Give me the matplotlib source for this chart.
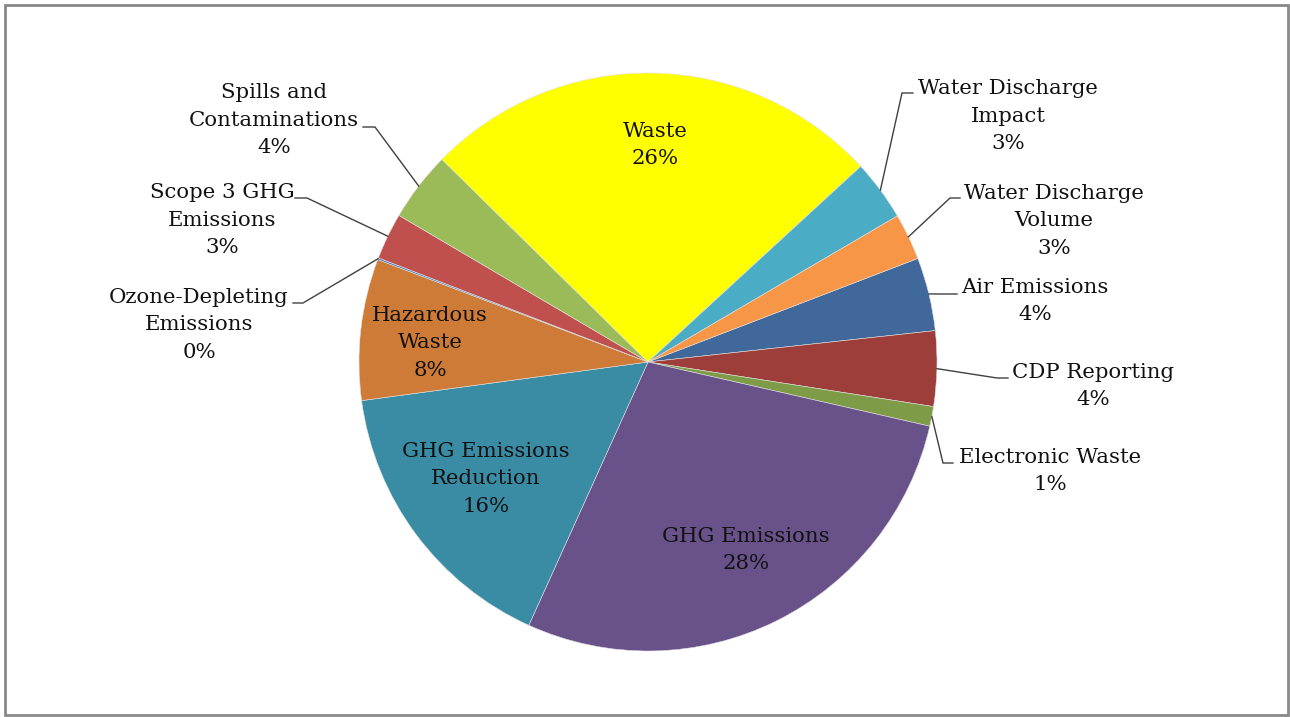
import numpy as np
import matplotlib
matplotlib.use('Agg')
import matplotlib.pyplot as plt
from matplotlib.patches import Rectangle

# data (alphabetical, as in the source sheet)
categories = ['Air Emissions', 'CDP Reporting', 'Electronic Waste', 'GHG Emissions',
              'GHG Emissions Reduction', 'Hazardous Waste', 'Ozone-Depleting Emissions',
              'Scope 3 GHG Emissions', 'Spills and Contaminations', 'Waste',
              'Water Discharge Impact', 'Water Discharge Volume']
label_text = ['Air Emissions', 'CDP Reporting', 'Electronic Waste', 'GHG Emissions',
              'GHG Emissions\nReduction', 'Hazardous\nWaste', 'Ozone-Depleting\nEmissions',
              'Scope 3 GHG\nEmissions', 'Spills and\nContaminations', 'Waste',
              'Water Discharge\nImpact', 'Water Discharge\nVolume']
values = [4.1, 4.2, 1.1, 28.2, 16.1, 7.9, 0.1, 2.6, 3.9, 25.8, 3.4, 2.6]
colors = ['#41689a', '#9e3e3b', '#7e9c48', '#69518a', '#3a8ca5', '#cd7b37', '#4f81bd',
          '#c0504d', '#9bbb59', '#ffff00', '#4bacc6', '#f79646']

W, H = 1290, 717
CX, CY, R = 648, 362, 289

# label layout in picture pixels (y down): text centre, elbow, end of leader (None = inside)
layout = {
    'Air Emissions': ((1035, 301), (943, 294), (957, 294)),
    'CDP Reporting': ((1093, 386), (997, 378), (1008, 378)),
    'Electronic Waste': ((1050, 471), (943, 463), (953, 463)),
    'GHG Emissions': ((746, 550), None, None),
    'GHG Emissions Reduction': ((486, 479), None, None),
    'Hazardous Waste': ((430, 343), None, None),
    'Ozone-Depleting Emissions': ((199, 325), (303, 303), (293, 303)),
    'Scope 3 GHG Emissions': ((222, 220), (307, 198), (295, 198)),
    'Spills and Contaminations': ((274, 120), (375, 127), (363, 127)),
    'Waste': ((655, 145), None, None),
    'Water Discharge Impact': ((1008, 116), (902, 93), (913, 93)),
    'Water Discharge Volume': ((1054, 221), (950, 198), (960, 198)),
}

def px(p):
    return p[0], H - p[1]

fig = plt.figure(figsize=(W / 100, H / 100), dpi=100)
ax = fig.add_axes([0, 0, 1, 1])

wedges, _ = ax.pie(values, colors=colors, startangle=21, counterclock=False,
                   center=(CX, H - CY), radius=R,
                   wedgeprops=dict(linewidth=0.4, edgecolor='#e0e0e0'))
ax.set_xlim(0, W)
ax.set_ylim(0, H)
ax.set_aspect('equal')
ax.axis('off')

total = sum(values)
font = dict(family='DejaVu Serif', fontsize=15.3, color='#111111')
for w, cat, txt, v in zip(wedges, categories, label_text, values):
    pos, elbow, end = layout[cat]
    ax.text(*px(pos), f'{txt}\n{v / total * 100:.0f}%', ha='center', va='center',
            multialignment='center', linespacing=1.55, **font)
    if elbow is not None:
        mid = np.deg2rad((w.theta1 + w.theta2) / 2)
        start = (CX + R * np.cos(mid), H - CY + R * np.sin(mid))
        e1, e2 = px(elbow), px(end)
        ax.plot([start[0], e1[0], e2[0]], [start[1], e1[1], e2[1]],
                color='#404040', lw=1.0, solid_joinstyle='miter')

fig.patches.append(Rectangle((5, 2), W - 7, H - 7, transform=None, fill=False,
                             edgecolor='#898989', linewidth=2))

fig.savefig('out.png', dpi=100)
